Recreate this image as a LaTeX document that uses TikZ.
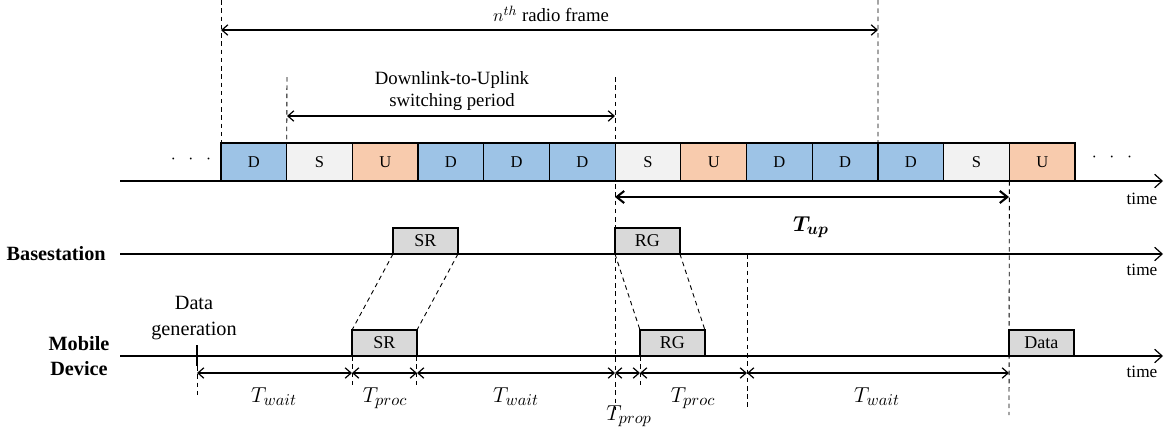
\documentclass[tikz,border=0pt]{standalone}
\usepackage{bm}
\usepackage{fontspec}
\setmainfont{Liberation Serif}
\usetikzlibrary{arrows.meta,positioning}
\DeclareMathSizes{13.5}{13.5}{10.5}{8}

\definecolor{dlblue}{RGB}{157,195,230}
\definecolor{spgray}{RGB}{242,242,242}
\definecolor{ulpeach}{RGB}{248,203,173}
\definecolor{msggray}{RGB}{217,217,217}

\begin{document}
\begin{tikzpicture}[x=0.6667pt,y=-0.6667pt,
  slotbox/.style={draw,line width=0.8pt,minimum width=43.8pt,minimum height=25.3pt,
    inner sep=0pt,outer sep=0pt,font=\fontsize{11}{13}\selectfont},
  msgbox/.style={draw,fill=msggray,line width=1.1pt,minimum width=43.3pt,minimum height=17.3pt,
    inner sep=0pt,outer sep=0pt,anchor=south west,font=\fontsize{12}{14}\selectfont},
  timeline/.style={line width=0.8pt,-{Straight Barb[length=5pt,width=9pt]}},
  dimarrow/.style={line width=0.8pt,{Straight Barb[length=4pt,width=7pt]}-{Straight Barb[length=4pt,width=7pt]}},
  boldarrow/.style={line width=1.4pt,{Straight Barb[length=5pt,width=8pt]}-{Straight Barb[length=5pt,width=8pt]}},
  guide/.style={line width=0.6pt,dash pattern=on 3pt off 2.5pt},
  lbl/.style={font=\fontsize{11.5}{13}\selectfont},
  toplbl/.style={font=\fontsize{12.5}{14.7}\selectfont,align=center},
  mathlbl/.style={font=\fontsize{13.5}{16}\selectfont,anchor=base},
  rowlbl/.style={font=\fontsize{13.5}{16.5}\selectfont\bfseries,align=center}]
\useasboundingbox (0,0) rectangle (1165,429);

% frame line with the subframes
\coordinate (fa) at (120,181);
\coordinate (fb) at (1163,181);
\draw[timeline] (fa) -- (fb);
\node[lbl] (ftime) at (1142,199) {time};

\node[slotbox,fill=dlblue,anchor=south west] (sl1) at (221,181) {D};
\node[slotbox,fill=spgray,right=0pt of sl1] (sl2) {S};
\node[slotbox,fill=ulpeach,right=0pt of sl2] (sl3) {U};
\node[slotbox,fill=dlblue,right=0pt of sl3] (sl4) {D};
\node[slotbox,fill=dlblue,right=0pt of sl4] (sl5) {D};
\node[slotbox,fill=dlblue,right=0pt of sl5] (sl6) {D};
\node[slotbox,fill=spgray,right=0pt of sl6] (sl7) {S};
\node[slotbox,fill=ulpeach,right=0pt of sl7] (sl8) {U};
\node[slotbox,fill=dlblue,right=0pt of sl8] (sl9) {D};
\node[slotbox,fill=dlblue,right=0pt of sl9] (sl10) {D};
\node[slotbox,fill=dlblue,right=0pt of sl10] (sl11) {D};
\node[slotbox,fill=spgray,right=0pt of sl11] (sl12) {S};
\node[slotbox,fill=ulpeach,right=0pt of sl12] (sl13) {U};

\node[lbl] (dotsl) at (191,159) {$\cdot\enspace\cdot\enspace\cdot$};
\node[lbl] (dotsr) at (1112,157) {$\cdot\enspace\cdot\enspace\cdot$};

% radio frame
\coordinate (rf0) at (221,0);
\coordinate (rf1) at (878,0);
\coordinate (rfa) at (221,30);
\coordinate (rfb) at (878,30);
\draw[guide] (rf0) -- (sl1.north west);
\draw[guide] (rf1) -- (sl10.north east);
\draw[dimarrow] (rfa) -- (rfb);
\node[toplbl] (rflab) at (551,14) {$n^{th}$ radio frame};

% switching period
\coordinate (sw0) at (287,77);
\coordinate (sw1) at (615,77);
\coordinate (swa) at (287,116);
\coordinate (swb) at (615,116);
\coordinate (swend) at (615,410);
\draw[guide] (sw0) -- (sl2.north west);
\draw[guide] (sw1) -- (swend);
\draw[dimarrow] (swa) -- (swb);
\node[toplbl] (swlab) at (452,91) {Downlink-to-Uplink\\switching period};

% uplink latency
\coordinate (upa) at (615,197);
\coordinate (upb) at (1009,197);
\coordinate (upend) at (1009,415);
\draw[guide] (sl13.south west) -- (upend);
\draw[boldarrow] (upa) -- (upb);
\node[mathlbl] (uplab) at (811,231) {$\bm{T_{up}}$};

% basestation
\coordinate (bsa) at (120,254);
\coordinate (bsb) at (1163,254);
\draw[timeline] (bsa) -- (bsb);
\node[rowlbl,anchor=east] (bslab) at (111,254) {Basestation};
\node[lbl] (bstime) at (1142,270) {time};
\node[msgbox] (bsr) at (393,254) {SR};
\node[msgbox] (brg) at (615,254) {RG};
\coordinate (pr0) at (747,254);
\coordinate (pr1) at (747,410);
\draw[guide] (pr0) -- (pr1);

% mobile device
\coordinate (mda) at (120,356);
\coordinate (mdb) at (1163,356);
\draw[timeline] (mda) -- (mdb);
\node[rowlbl] (mdlab) at (79,356) {Mobile\\Device};
\node[lbl] (mdtime) at (1142,372) {time};
\node[msgbox] (msr) at (352,356) {SR};
\node[msgbox] (mrg) at (640,356) {RG};
\node[msgbox] (mdat) at (1009,356) {Data};

\draw[guide] (bsr.south west) -- (msr.north west);
\draw[guide] (bsr.south east) -- (msr.north east);
\draw[guide] (brg.south west) -- (mrg.north west);
\draw[guide] (brg.south east) -- (mrg.north east);

% data generation
\coordinate (dg0) at (197,345);
\coordinate (dg1) at (197,366);
\coordinate (dg2) at (197,396);
\draw[line width=1pt] (dg0) -- (dg1);
\draw[guide] (dg1) -- (dg2);
\node[align=center,font=\fontsize{13.5}{17}\selectfont] (dglab) at (194,318) {Data\\generation};

\draw[guide] (msr.south west) -- ++(0,29);
\draw[guide] (msr.south east) -- ++(0,29);
\draw[guide] (mrg.south west) -- ++(0,29);

% delay components
\coordinate (w0) at (197,373);
\coordinate (w1) at (352,373);
\coordinate (w2) at (417,373);
\coordinate (w3) at (615,373);
\coordinate (w4) at (640,373);
\coordinate (w5) at (747,373);
\coordinate (w6) at (1009,373);
\draw[dimarrow] (w0) -- (w1);
\draw[dimarrow] (w1) -- (w2);
\draw[dimarrow] (w2) -- (w3);
\draw[dimarrow] (w3) -- (w4);
\draw[dimarrow] (w4) -- (w5);
\draw[dimarrow] (w5) -- (w6);
\node[mathlbl] (tw1) at (274,402) {$T_{wait}$};
\node[mathlbl] (tp1) at (385,402) {$T_{proc}$};
\node[mathlbl] (tw2) at (516,402) {$T_{wait}$};
\node[mathlbl] (tg1) at (629,420) {$T_{prop}$};
\node[mathlbl] (tp2) at (693,402) {$T_{proc}$};
\node[mathlbl] (tw3) at (877,402) {$T_{wait}$};
\end{tikzpicture}
\end{document}
